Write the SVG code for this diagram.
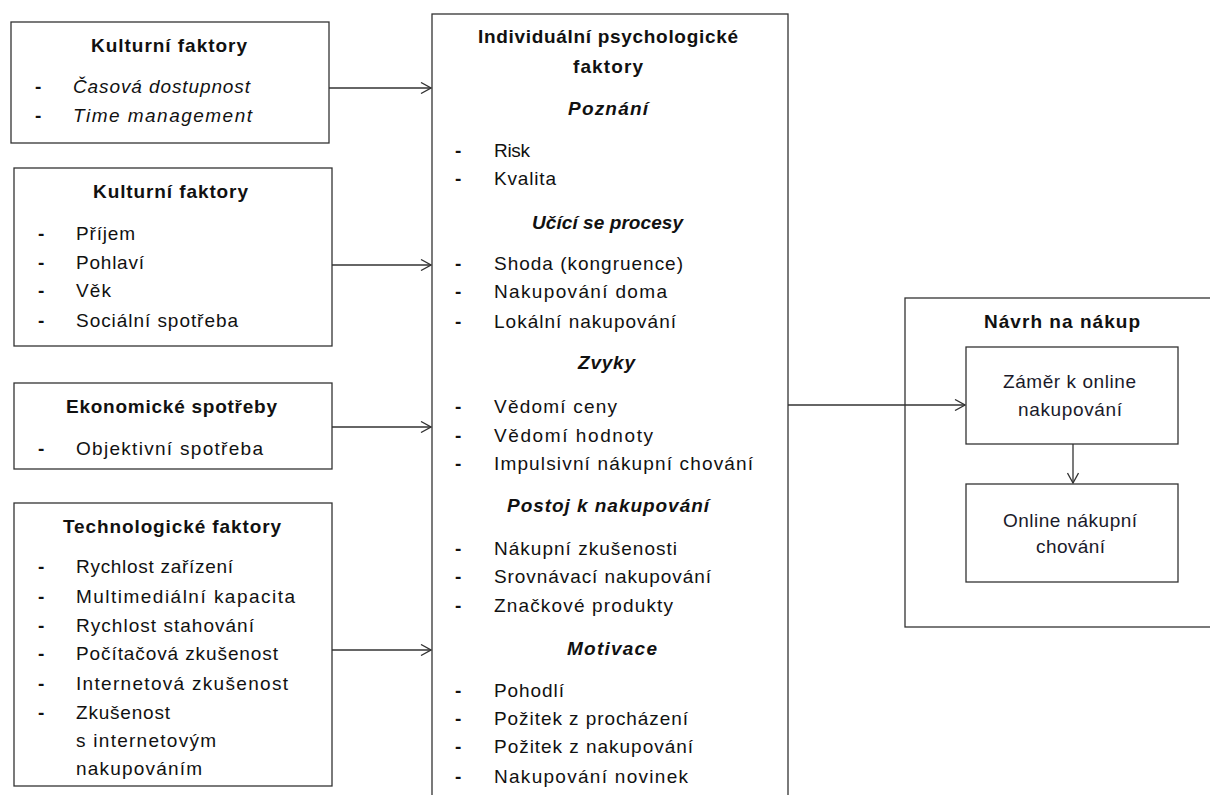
<svg xmlns="http://www.w3.org/2000/svg" width="1210" height="795" viewBox="0 0 1210 795">
  <style>
    .box { fill: #ffffff; stroke: #333333; stroke-width: 1.3; }
    .link { fill: none; stroke: #333333; stroke-width: 1.3; }
    text { font-family: "Liberation Sans", Arial, sans-serif; font-size: 19px; fill: #111111; }
    .title { font-weight: bold; text-anchor: middle; }
    .sect { font-weight: bold; font-style: italic; text-anchor: middle; }
    .it { font-style: italic; }
    .dash { font-weight: bold; }
    .mid { text-anchor: middle; fill: #1a1a2a; }
  </style>
  <defs>
    <marker id="chev" viewBox="0 0 12 12" refX="11" refY="6" markerWidth="12" markerHeight="12" markerUnits="userSpaceOnUse" orient="auto">
      <path d="M1,0.5 L11,6 L1,11.5" fill="none" stroke="#333333" stroke-width="1.3"/>
    </marker>
  </defs>
  <rect width="1210" height="795" fill="#ffffff"/>

  <!-- left-hand factor groups -->
  <g id="kulturni-1">
    <rect class="box" x="11" y="22" width="318" height="121"/>
    <text class="title" x="169" y="52" textLength="156">Kulturní faktory</text>
    <text class="dash" x="35" y="93">-</text>
    <text class="it" x="73" y="93" textLength="177">Časová dostupnost</text>
    <text class="dash" x="35" y="122">-</text>
    <text class="it" x="73" y="122" textLength="179">Time management</text>
  </g>

  <g id="kulturni-2">
    <rect class="box" x="14" y="168" width="318" height="178"/>
    <text class="title" x="170.5" y="198" textLength="155">Kulturní faktory</text>
    <text class="dash" x="38" y="240">-</text>
    <text x="76" y="240" textLength="59">Příjem</text>
    <text class="dash" x="38" y="269">-</text>
    <text x="76" y="269" textLength="68">Pohlaví</text>
    <text class="dash" x="38" y="297">-</text>
    <text x="76" y="297" textLength="35">Věk</text>
    <text class="dash" x="38" y="327">-</text>
    <text x="76" y="327" textLength="162">Sociální spotřeba</text>
  </g>

  <g id="ekonomicke">
    <rect class="box" x="14" y="383" width="318" height="86"/>
    <text class="title" x="171.5" y="413" textLength="211">Ekonomické spotřeby</text>
    <text class="dash" x="38" y="455">-</text>
    <text x="76" y="455" textLength="187">Objektivní spotřeba</text>
  </g>

  <g id="technologicke">
    <rect class="box" x="14" y="503" width="318" height="283"/>
    <text class="title" x="172" y="533" textLength="218">Technologické faktory</text>
    <text class="dash" x="38" y="573">-</text>
    <text x="76" y="573" textLength="157">Rychlost zařízení</text>
    <text class="dash" x="38" y="603">-</text>
    <text x="76" y="603" textLength="219">Multimediální kapacita</text>
    <text class="dash" x="38" y="632">-</text>
    <text x="76" y="632" textLength="178">Rychlost stahování</text>
    <text class="dash" x="38" y="660">-</text>
    <text x="76" y="660" textLength="202">Počítačová zkušenost</text>
    <text class="dash" x="38" y="690">-</text>
    <text x="76" y="690" textLength="212">Internetová zkušenost</text>
    <text class="dash" x="38" y="719">-</text>
    <text x="76" y="719" textLength="94">Zkušenost</text>
    <text x="76" y="747" textLength="140">s internetovým</text>
    <text x="76" y="775" textLength="126">nakupováním</text>
  </g>

  <!-- central psychological factors -->
  <g id="individualni">
    <rect class="box" x="432" y="14" width="356" height="800"/>
    <text class="title" x="608" y="43" textLength="260">Individuální psychologické</text>
    <text class="title" x="608" y="73" textLength="70">faktory</text>

    <text class="sect" x="608" y="115" textLength="80">Poznání</text>
    <text class="dash" x="455" y="157">-</text>
    <text x="494" y="157" textLength="36">Risk</text>
    <text class="dash" x="455" y="185">-</text>
    <text x="494" y="185" textLength="62">Kvalita</text>

    <text class="sect" x="607.5" y="229" textLength="151">Učící se procesy</text>
    <text class="dash" x="455" y="270">-</text>
    <text x="494" y="270" textLength="189">Shoda (kongruence)</text>
    <text class="dash" x="455" y="298">-</text>
    <text x="494" y="298" textLength="173">Nakupování doma</text>
    <text class="dash" x="455" y="328">-</text>
    <text x="494" y="328" textLength="182">Lokální nakupování</text>

    <text class="sect" x="606.5" y="369" textLength="57">Zvyky</text>
    <text class="dash" x="455" y="413">-</text>
    <text x="494" y="413" textLength="123">Vědomí ceny</text>
    <text class="dash" x="455" y="442">-</text>
    <text x="494" y="442" textLength="159">Vědomí hodnoty</text>
    <text class="dash" x="455" y="470">-</text>
    <text x="494" y="470" textLength="259">Impulsivní nákupní chování</text>

    <text class="sect" x="608" y="512" textLength="202">Postoj k nakupování</text>
    <text class="dash" x="455" y="555">-</text>
    <text x="494" y="555" textLength="183">Nákupní zkušenosti</text>
    <text class="dash" x="455" y="583">-</text>
    <text x="494" y="583" textLength="217">Srovnávací nakupování</text>
    <text class="dash" x="455" y="612">-</text>
    <text x="494" y="612" textLength="179">Značkové produkty</text>

    <text class="sect" x="612" y="655" textLength="90">Motivace</text>
    <text class="dash" x="455" y="697">-</text>
    <text x="494" y="697" textLength="70">Pohodlí</text>
    <text class="dash" x="455" y="725">-</text>
    <text x="494" y="725" textLength="194">Požitek z procházení</text>
    <text class="dash" x="455" y="753">-</text>
    <text x="494" y="753" textLength="199">Požitek z nakupování</text>
    <text class="dash" x="455" y="783">-</text>
    <text x="494" y="783" textLength="194">Nakupování novinek</text>
  </g>

  <!-- purchase outcome -->
  <g id="navrh">
    <rect class="box" x="905" y="298" width="330" height="329"/>
    <text class="title" x="1062" y="328" textLength="156">Návrh na nákup</text>
  </g>

  <g id="zamer">
    <rect class="box" x="966" y="347" width="212" height="97"/>
    <text class="mid" x="1069.5" y="388" textLength="133">Záměr k online</text>
    <text class="mid" x="1070" y="416" textLength="104">nakupování</text>
  </g>

  <g id="chovani">
    <rect class="box" x="966" y="484" width="212" height="98"/>
    <text class="mid" x="1070" y="527" textLength="134">Online nákupní</text>
    <text class="mid" x="1070.5" y="553" textLength="69">chování</text>
  </g>

  <!-- connectors -->
  <g id="connectors">
    <path class="link" d="M329,88 H431" marker-end="url(#chev)"/>
    <path class="link" d="M332,265 H431" marker-end="url(#chev)"/>
    <path class="link" d="M332,427 H431" marker-end="url(#chev)"/>
    <path class="link" d="M332,650 H431" marker-end="url(#chev)"/>
    <path class="link" d="M788,405 H965" marker-end="url(#chev)"/>
    <path class="link" d="M1073,444 V483" marker-end="url(#chev)"/>
  </g>
</svg>
